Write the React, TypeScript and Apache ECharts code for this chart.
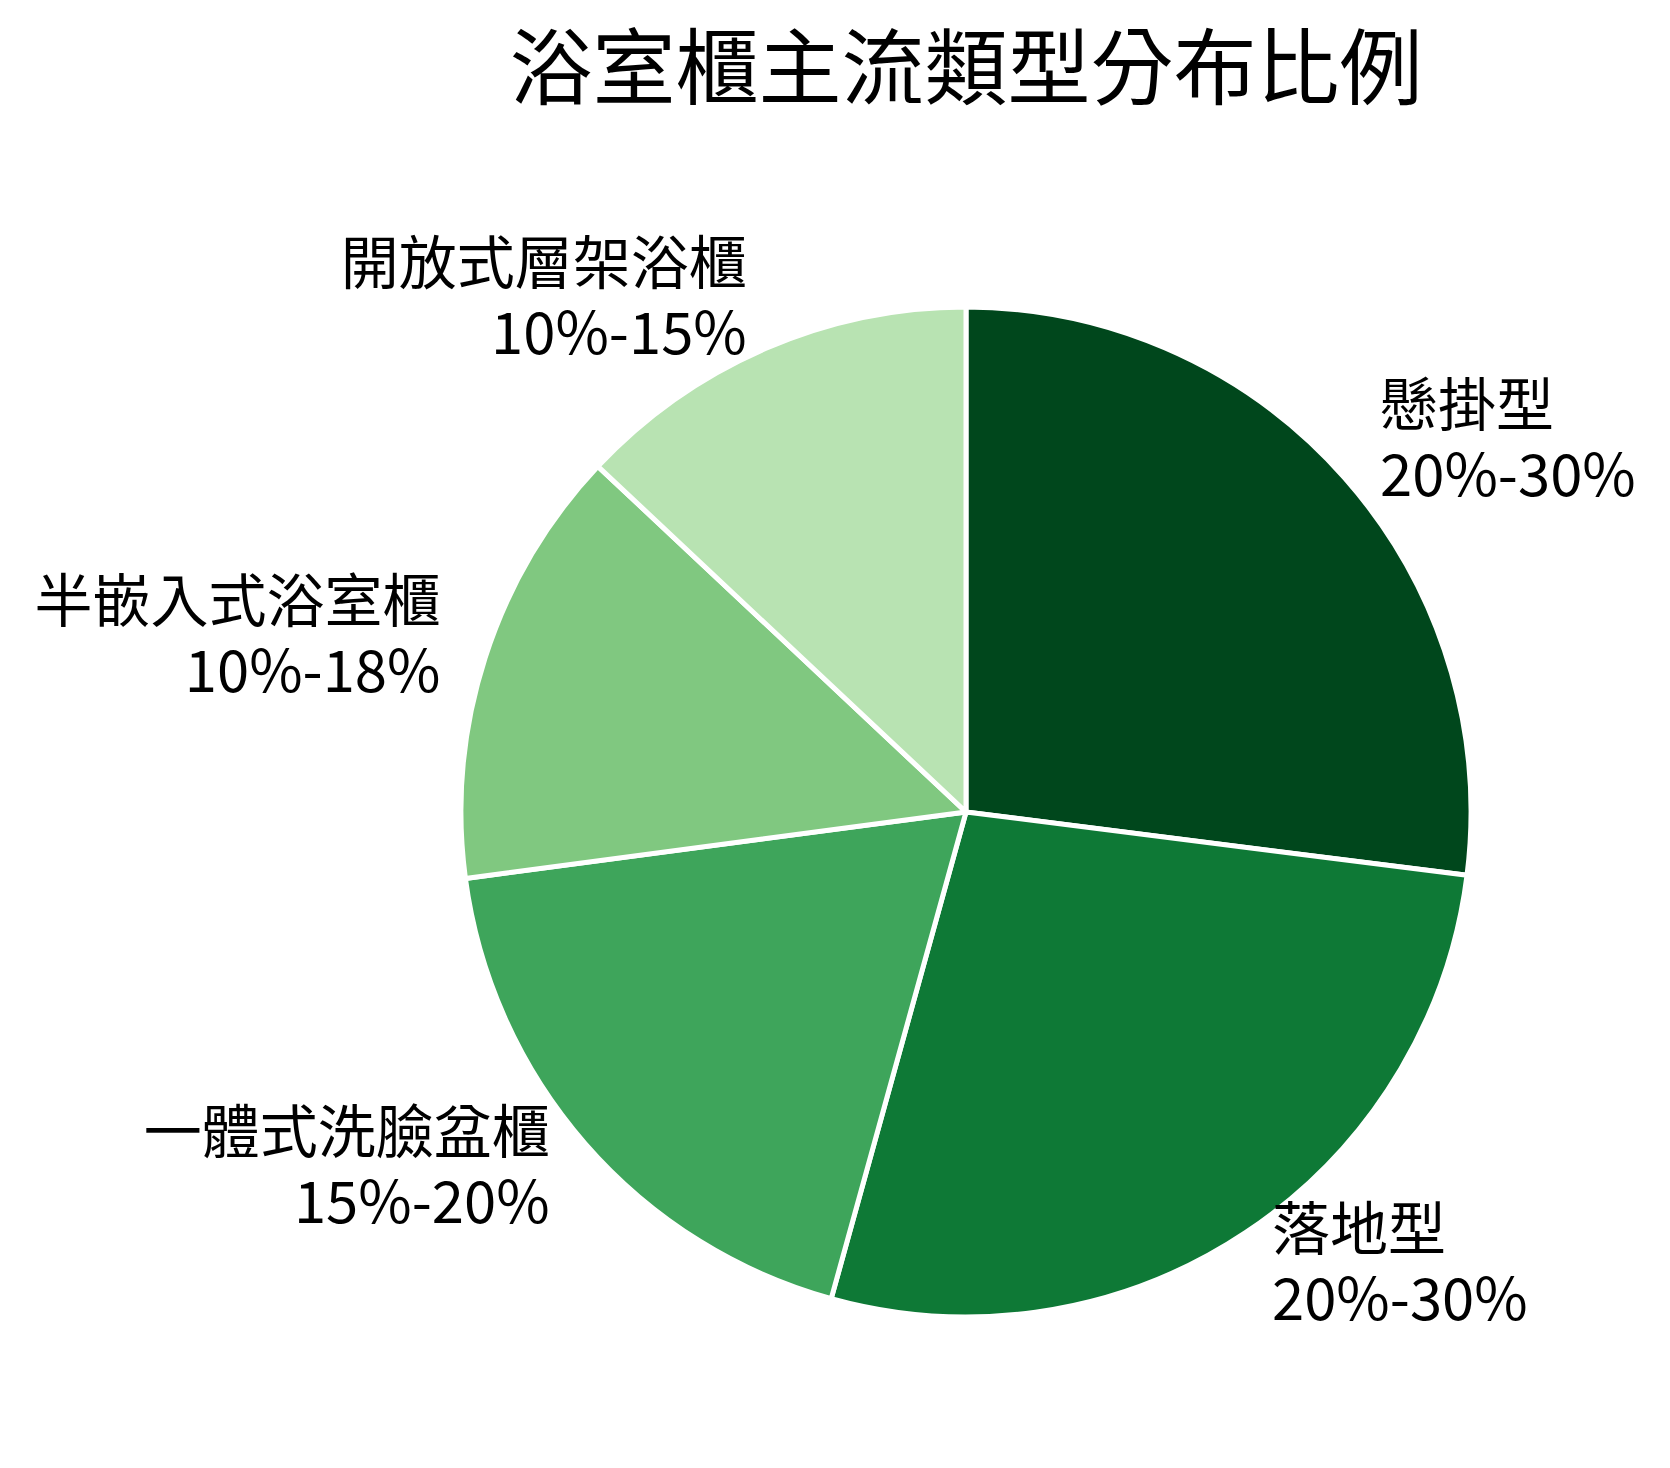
import React, { useEffect, useRef } from "react";
import * as echarts from "echarts";

const categories = ["懸掛型", "落地型", "一體式洗臉盆櫃", "半嵌入式浴室櫃", "開放式層架浴櫃"];
const shares = [27.0, 27.3, 18.6, 14.1, 13.0];
const ranges = ["20%-30%", "20%-30%", "15%-20%", "10%-18%", "10%-15%"];
const sliceColors = ["#00471c", "#0e7936", "#3ea55b", "#80c880", "#b8e3b2"];

const fontFamily = '"Noto Sans CJK TC", "Noto Sans CJK SC", sans-serif';

export default function App() {
  const chartRef = useRef<HTMLDivElement | null>(null);

  useEffect(() => {
    if (!chartRef.current) return;
    const chart = echarts.init(chartRef.current, undefined, { renderer: "svg" });

    chart.setOption({
      animation: false,
      backgroundColor: "#ffffff",
      title: {
        text: "浴室櫃主流類型分布比例",
        left: 961,
        top: 15,
        textAlign: "center",
        textStyle: {
          fontFamily,
          fontSize: 83,
          fontWeight: "normal",
          color: "#000000",
        },
      },
      series: [
        {
          type: "pie",
          center: [966, 812],
          radius: 505,
          startAngle: 90,
          clockwise: true,
          avoidLabelOverlap: false,
          itemStyle: { borderColor: "#ffffff", borderWidth: 5 },
          label: {
            show: true,
            position: "outside",
            distanceToLabelLine: 0,
            fontFamily,
            fontSize: 58,
            lineHeight: 70,
            color: "#000000",
            formatter: (p: any) => `${p.name}\n${ranges[p.dataIndex]}`,
          },
          labelLayout: { dy: -11 },
          labelLine: { show: false, length: 47, length2: 0 },
          emphasis: { disabled: true },
          data: categories.map((name, i) => ({
            name,
            value: shares[i],
            itemStyle: { color: sliceColors[i] },
          })),
        },
      ],
    });

    return () => {
      chart.dispose();
    };
  }, []);

  return (
    <div
      ref={chartRef}
      style={{ position: "absolute", left: 0, top: 0, width: 1670, height: 1468 }}
    />
  );
}
